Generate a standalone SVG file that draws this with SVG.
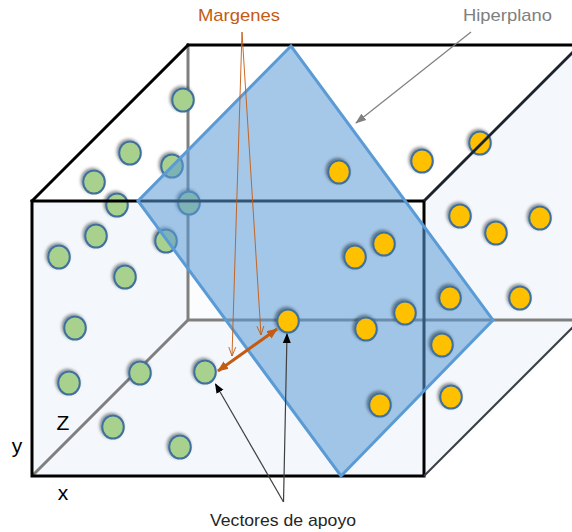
<svg xmlns="http://www.w3.org/2000/svg" width="572" height="532" viewBox="0 0 572 532">
<style>
.blk{stroke:#000;stroke-width:3;fill:none;stroke-linecap:square}
.gry{stroke:#7f7f7f;stroke-width:3;fill:none}
.g{fill:#a9d18e;stroke:#41719c;stroke-width:2;filter:url(#sh)}
.o{fill:#ffc000;stroke:#41719c;stroke-width:2;filter:url(#sh)}
.lbl{font-family:"Liberation Sans",Arial,sans-serif;font-size:17px}
.ax{font-family:"Liberation Sans",Arial,sans-serif;font-size:21px;fill:#000}
</style>
<defs>
<filter id="sh" x="-50%" y="-50%" width="200%" height="200%">
<feDropShadow dx="-1.5" dy="-1.5" stdDeviation="1.5" flood-color="#000" flood-opacity="0.45"/>
</filter>
<marker id="ah-blk" markerUnits="userSpaceOnUse" markerWidth="10" markerHeight="10" viewBox="0 0 10 10" refX="9" refY="5" orient="auto"><path d="M0,1 L10,5 L0,9 z" fill="#000"/></marker>
<marker id="ah-gry" markerUnits="userSpaceOnUse" markerWidth="11" markerHeight="10" viewBox="0 0 11 10" refX="10" refY="5" orient="auto"><path d="M0,1 L11,5 L0,9 z" fill="#7f7f7f"/></marker>
<marker id="ah-or" markerUnits="userSpaceOnUse" markerWidth="11" markerHeight="10" viewBox="0 0 11 10" refX="10" refY="5" orient="auto-start-reverse"><path d="M0,0.5 L11,5 L0,9.5 z" fill="#c55a11"/></marker>
<marker id="ah-v" markerUnits="userSpaceOnUse" markerWidth="10" markerHeight="10" viewBox="0 0 10 10" refX="9" refY="5" orient="auto"><path d="M0,1.5 L9,5 L0,8.5" fill="none" stroke="#c55a11" stroke-width="0.9"/></marker>
</defs>

<g id="cube-faces">
<polygon points="188,45 580,45 424,201 32,201" fill="#ffffff"/>
<polygon points="424,201 580,45 580,320 424,476" fill="#f4f8fc"/>
<rect x="32" y="201" width="392" height="275" fill="#f4f8fc"/>
<rect x="188" y="201" width="236" height="119" fill="#fbfcfe"/>
</g>
<g id="cube-back-edges">
<line class="gry" x1="188" y1="45" x2="188" y2="320"/>
<line class="gry" x1="188" y1="320" x2="580" y2="320"/>
<line class="gry" x1="32" y1="476" x2="188" y2="320"/>
</g>

<g id="class-green">
<ellipse class="g" cx="183" cy="100" rx="10.8" ry="11.6"/>
<ellipse class="g" cx="130" cy="153" rx="10.8" ry="11.6"/>
<ellipse class="g" cx="172" cy="166" rx="10.8" ry="11.6"/>
<ellipse class="g" cx="94" cy="182" rx="10.8" ry="11.6"/>
<ellipse class="g" cx="117" cy="205" rx="10.8" ry="11.6"/>
<ellipse class="g" cx="189" cy="203" rx="10.8" ry="11.6"/>
<ellipse class="g" cx="96" cy="236" rx="10.8" ry="11.6"/>
<ellipse class="g" cx="166" cy="241" rx="10.8" ry="11.6"/>
<ellipse class="g" cx="59" cy="257" rx="10.8" ry="11.6"/>
<ellipse class="g" cx="125" cy="277" rx="10.8" ry="11.6"/>
<ellipse class="g" cx="75" cy="328" rx="10.8" ry="11.6"/>
<ellipse class="g" cx="140" cy="373" rx="10.8" ry="11.6"/>
<ellipse class="g" cx="205" cy="372" rx="10.8" ry="11.6"/>
<ellipse class="g" cx="69" cy="383" rx="10.8" ry="11.6"/>
<ellipse class="g" cx="113" cy="427" rx="10.8" ry="11.6"/>
<ellipse class="g" cx="180" cy="447" rx="10.8" ry="11.6"/>
</g>

<g id="cube-front-edges">
<line class="blk" x1="188" y1="45" x2="580" y2="45"/>
<line class="blk" x1="32" y1="201" x2="188" y2="45"/>
<rect class="blk" x="32" y="201" width="392" height="275"/>
<line x1="424" y1="476" x2="580" y2="320" stroke="#3a3f45" stroke-width="2"/>
</g>

<g id="hyperplane">
<polygon points="291,46 138,201 341,476 493,320" fill="#5b9bd5" fill-opacity="0.55" stroke="#5b9bd5" stroke-width="3" stroke-linejoin="miter"/>
</g>

<g id="class-orange">
<ellipse class="o" cx="339" cy="172" rx="10.8" ry="11.6"/>
<ellipse class="o" cx="422" cy="161" rx="10.8" ry="11.6"/>
<ellipse class="o" cx="480" cy="143" rx="10.8" ry="11.6"/>
<ellipse class="o" cx="460" cy="216" rx="10.8" ry="11.6"/>
<ellipse class="o" cx="540" cy="218" rx="10.8" ry="11.6"/>
<ellipse class="o" cx="496" cy="233" rx="10.8" ry="11.6"/>
<ellipse class="o" cx="384" cy="244" rx="10.8" ry="11.6"/>
<ellipse class="o" cx="355" cy="257" rx="10.8" ry="11.6"/>
<ellipse class="o" cx="288" cy="321" rx="10.8" ry="11.6"/>
<ellipse class="o" cx="405" cy="313" rx="10.8" ry="11.6"/>
<ellipse class="o" cx="366" cy="329" rx="10.8" ry="11.6"/>
<ellipse class="o" cx="450" cy="298" rx="10.8" ry="11.6"/>
<ellipse class="o" cx="520" cy="298" rx="10.8" ry="11.6"/>
<ellipse class="o" cx="442" cy="345" rx="10.8" ry="11.6"/>
<ellipse class="o" cx="380" cy="405" rx="10.8" ry="11.6"/>
<ellipse class="o" cx="451" cy="397" rx="10.8" ry="11.6"/>
</g>

<g id="cube-top-right-edge">
<line x1="424" y1="201" x2="580" y2="45" stroke="#1c232b" stroke-width="3"/>
</g>

<g id="connectors">
<line x1="471" y1="32" x2="356" y2="123" stroke="#7f7f7f" stroke-width="1.2" marker-end="url(#ah-gry)"/>
<line x1="242" y1="32" x2="232" y2="356" stroke="#c55a11" stroke-width="0.9" marker-end="url(#ah-v)"/>
<line x1="242" y1="32" x2="261" y2="335" stroke="#c55a11" stroke-width="0.9" marker-end="url(#ah-v)"/>
<line x1="218" y1="371" x2="277" y2="329" stroke="#c55a11" stroke-width="3" marker-start="url(#ah-or)" marker-end="url(#ah-or)"/>
<line x1="283.5" y1="502" x2="215.5" y2="384" stroke="#404040" stroke-width="1.2" marker-end="url(#ah-blk)"/>
<line x1="283.5" y1="502" x2="287" y2="334" stroke="#404040" stroke-width="1.2" marker-end="url(#ah-blk)"/>
</g>

<g id="labels">
<text class="lbl" x="239" y="21" text-anchor="middle" fill="#c55a11" textLength="82" lengthAdjust="spacingAndGlyphs">Margenes</text>
<text class="lbl" x="507.5" y="21" text-anchor="middle" fill="#7f7f7f" textLength="89" lengthAdjust="spacingAndGlyphs">Hiperplano</text>
<text class="lbl" x="283" y="525.5" text-anchor="middle" fill="#262626" textLength="146" lengthAdjust="spacingAndGlyphs">Vectores de apoyo</text>
<text class="ax" x="63" y="430" text-anchor="middle">Z</text>
<text class="ax" x="17" y="453" text-anchor="middle">y</text>
<text class="ax" x="63" y="500" text-anchor="middle">x</text>
</g>
</svg>
